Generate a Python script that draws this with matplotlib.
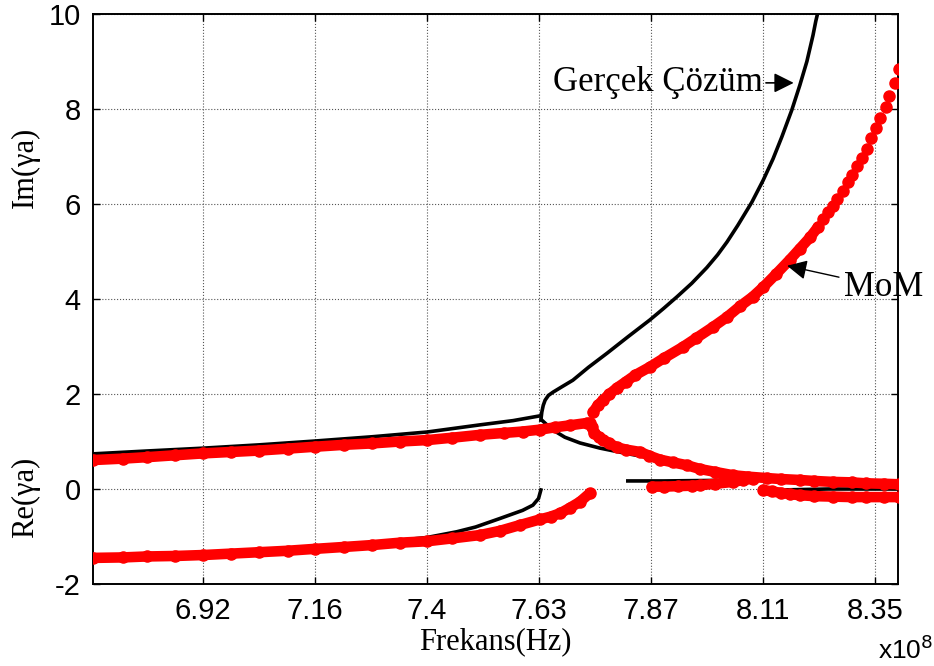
import matplotlib.pyplot as plt

# frequencies in units of 1e8 Hz

# exact solution (black lines)
true_re_left_f = [6.686, 6.80, 6.920, 7.04, 7.158, 7.28, 7.397, 7.509, 7.580, 7.637]
true_re_left_v = [0.74, 0.80, 0.86, 0.93, 1.01, 1.10, 1.20, 1.35, 1.44, 1.54]

true_re_neg_f = [6.686, 6.920, 7.158, 7.30, 7.397, 7.46, 7.50, 7.552, 7.60, 7.622, 7.634, 7.639]
true_re_neg_v = [-1.45, -1.38, -1.24, -1.12, -1.02, -0.90, -0.80, -0.62, -0.45, -0.34, -0.20, -0.02]

true_im_f = [7.639, 7.641, 7.644, 7.648, 7.655, 7.665, 7.685, 7.707, 7.74, 7.780, 7.825, 7.871,
             7.90, 7.929, 7.96, 7.992, 8.015, 8.035, 8.058, 8.088, 8.112, 8.133, 8.152,
             8.173, 8.190, 8.205, 8.218, 8.224, 8.23, 8.236]
true_im_v = [1.45, 1.62, 1.76, 1.87, 1.97, 2.04, 2.16, 2.29, 2.56, 2.86, 3.21, 3.56,
             3.80, 4.05, 4.33, 4.66, 4.93, 5.20, 5.55, 6.04, 6.50, 6.95, 7.42,
             7.98, 8.50, 9.00, 9.55, 9.85, 10.1, 10.4]

true_re_desc_f = [7.641, 7.652, 7.665, 7.69, 7.722, 7.765, 7.82, 7.875, 7.93, 7.978, 8.02,
                  8.069, 8.12, 8.20, 8.30, 8.40]
true_re_desc_v = [1.45, 1.35, 1.24, 1.09, 0.97, 0.86, 0.75, 0.65, 0.54, 0.45, 0.36,
                  0.28, 0.20, 0.14, 0.09, 0.05]

true_re_flat_f = [7.824, 7.90, 8.00, 8.08]
true_re_flat_v = [0.17, 0.17, 0.18, 0.19]

true_re_zero_f = [8.105, 8.15, 8.25, 8.40]
true_re_zero_v = [-0.03, -0.02, 0.0, 0.0]

# MoM results (red dots)
mom_re_left_f = [6.686, 6.75, 6.80, 6.86, 6.920, 6.98, 7.04, 7.10, 7.158, 7.22, 7.28, 7.339,
                 7.397, 7.45, 7.509, 7.56, 7.60, 7.637, 7.67, 7.70, 7.737]
mom_re_left_v = [0.61, 0.64, 0.67, 0.71, 0.75, 0.78, 0.81, 0.85, 0.89, 0.93, 0.96, 1.00,
                 1.03, 1.08, 1.14, 1.18, 1.21, 1.25, 1.30, 1.34, 1.39]

mom_re_desc_f = [7.743, 7.748, 7.752, 7.762, 7.771, 7.785, 7.80, 7.82, 7.850, 7.87, 7.892,
                 7.92, 7.95, 7.978, 8.01, 8.048, 8.08, 8.12, 8.15, 8.19, 8.22, 8.26, 8.30,
                 8.33, 8.37, 8.40]
mom_re_desc_v = [1.39, 1.30, 1.18, 1.10, 1.04, 0.96, 0.88, 0.83, 0.78, 0.70, 0.62,
                 0.56, 0.50, 0.42, 0.36, 0.29, 0.26, 0.23, 0.21, 0.19, 0.17, 0.15, 0.14,
                 0.12, 0.11, 0.10]

mom_re_neg_f = [6.686, 6.75, 6.80, 6.86, 6.920, 6.98, 7.04, 7.10, 7.158, 7.22, 7.28, 7.339,
                7.397, 7.45, 7.509, 7.552, 7.594, 7.637, 7.660, 7.680, 7.70, 7.722, 7.743]
mom_re_neg_v = [-1.45, -1.44, -1.42, -1.41, -1.39, -1.36, -1.33, -1.30, -1.26, -1.22, -1.18, -1.13,
                -1.10, -1.04, -0.97, -0.88, -0.76, -0.64, -0.58, -0.51, -0.40, -0.27, -0.09]

mom_im_f = [7.750, 7.760, 7.771, 7.785, 7.801, 7.82, 7.84, 7.871, 7.90, 7.941, 7.97, 8.005,
            8.035, 8.063, 8.09, 8.112, 8.14, 8.169, 8.19, 8.212, 8.229]
mom_im_v = [1.62, 1.76, 1.87, 2.00, 2.13, 2.26, 2.40, 2.57, 2.75, 2.99, 3.18, 3.41,
            3.62, 3.85, 4.05, 4.25, 4.53, 4.83, 5.06, 5.30, 5.52]

mom_im_top_f = [8.239, 8.250, 8.261, 8.269, 8.282, 8.292, 8.301, 8.312, 8.322, 8.333,
                8.341, 8.352, 8.361, 8.373, 8.380, 8.392, 8.401]
mom_im_top_v = [5.68, 5.83, 5.96, 6.10, 6.27, 6.46, 6.61, 6.80, 6.97, 7.16,
                7.39, 7.60, 7.80, 8.04, 8.27, 8.55, 8.84]

mom_re_rise_f = [7.875, 7.90, 7.93, 7.96, 7.978, 8.01, 8.048, 8.07, 8.09]
mom_re_rise_v = [0.05, 0.05, 0.06, 0.07, 0.08, 0.11, 0.15, 0.19, 0.22]

mom_re_low_f = [8.112, 8.13, 8.15, 8.17, 8.19, 8.22, 8.26, 8.30, 8.33, 8.37, 8.40]
mom_re_low_v = [-0.02, -0.05, -0.08, -0.11, -0.13, -0.15, -0.16, -0.17, -0.17, -0.17, -0.17]

xtick_pos = [6.92, 7.158, 7.397, 7.635, 7.873, 8.112, 8.350]
xtick_labels = ["6.92", "7.16", "7.4", "7.63", "7.87", "8.11", "8.35"]
yticks = [-2, 0, 2, 4, 6, 8, 10]

plt.rcParams['font.family'] = ['Liberation Sans', 'DejaVu Sans']
plt.rcParams['axes.unicode_minus'] = False
serif = ['Liberation Serif', 'DejaVu Serif']

fig = plt.figure(figsize=(9.34, 6.66), dpi=100)
ax = fig.add_axes([0.0996, 0.1231, 0.8619, 0.8559])

red = '#ff0000'
ms = 8.0
# red MoM branches: dense dots, drawn as dots joined by a band of the same width
for f, v in [(mom_re_left_f, mom_re_left_v), (mom_re_desc_f, mom_re_desc_v),
             (mom_re_neg_f, mom_re_neg_v), (mom_im_f, mom_im_v),
             (mom_re_rise_f, mom_re_rise_v), (mom_re_low_f, mom_re_low_v)]:
    ax.plot(f, v, '-o', color=red, lw=7.6, ms=ms, mec=red, solid_capstyle='round', zorder=3)
ax.plot(mom_im_top_f, mom_im_top_v, 'o', color=red, ms=ms, mec=red, zorder=3)

# black exact solution
for f, v in [(true_re_left_f, true_re_left_v), (true_re_neg_f, true_re_neg_v),
             (true_im_f, true_im_v), (true_re_desc_f, true_re_desc_v),
             (true_re_flat_f, true_re_flat_v), (true_re_zero_f, true_re_zero_v)]:
    ax.plot(f, v, '-', color='black', lw=2.6, zorder=2)

ax.set_xlim(6.686, 8.399)
ax.set_ylim(-2, 10)
ax.set_xticks(xtick_pos)
ax.set_xticklabels(xtick_labels)
ax.set_yticks(yticks)
ax.tick_params(direction='in', top=True, right=True, length=5, width=1,
               labelsize=21, pad=9)
ax.grid(True, color='#555555', linestyle=':', linewidth=0.8)
for s in ax.spines.values():
    s.set_linewidth(1.4)

ax.set_xlabel("Frekans(Hz)", family=serif, fontsize=22, labelpad=2)
fig.text(0.027, 1 - 167 / 666, "Im(\u03b3a)", family=serif, fontsize=22,
         rotation=90, ha='center', va='center')
fig.text(0.027, 1 - 497 / 666, "Re(\u03b3a)", family=serif, fontsize=22,
         rotation=90, ha='center', va='center')
fig.text(0.940, 1 - 650 / 666, "x10$^8$", fontsize=19, ha='left', va='center')

ax.annotate("Ger\u00e7ek \u00c7\u00f6z\u00fcm", xy=(8.177, 8.55), xytext=(8.112, 8.55),
            family=serif, fontsize=25, ha='right', va='center',
            arrowprops=dict(arrowstyle='-|>', color='black', lw=1.2, mutation_scale=30,
                            shrinkA=0, shrinkB=0))
ax.annotate("MoM", xy=(8.163, 4.70), xytext=(8.285, 4.25),
            family=serif, fontsize=25, ha='left', va='center',
            annotation_clip=False,
            arrowprops=dict(arrowstyle='-|>', color='black', lw=1.0, mutation_scale=30,
                            shrinkA=2, shrinkB=0))

fig.savefig("out.png", dpi=100)
